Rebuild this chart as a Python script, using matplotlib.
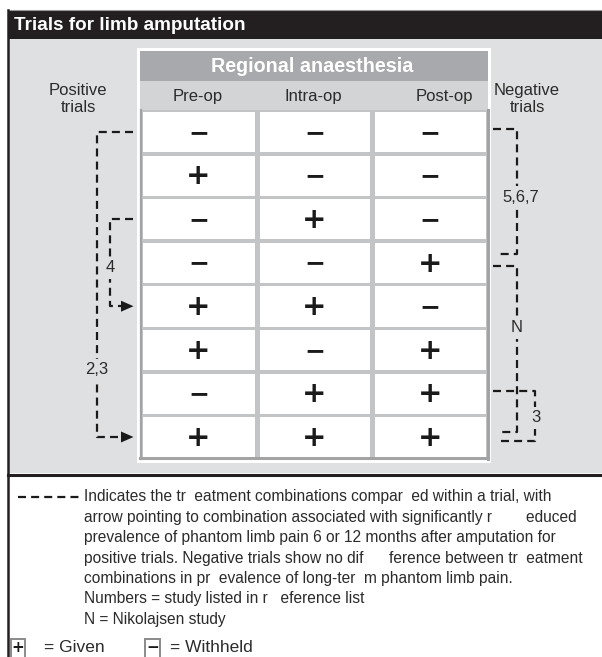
import matplotlib
matplotlib.use("Agg")
import matplotlib.pyplot as plt
from matplotlib.patches import Rectangle, Polygon

# ---------------- data ----------------
title = "Trials for limb amputation"
group_header = "Regional anaesthesia"
columns = ["Pre-op", "Intra-op", "Post-op"]
# 1 = given (+), 0 = withheld (−), one entry per table row
pre_op = [0, 1, 0, 0, 1, 1, 0, 1]
intra_op = [0, 0, 1, 0, 1, 0, 1, 1]
post_op = [0, 0, 0, 1, 0, 1, 1, 1]
side_labels = ["Positive\ntrials", "Negative\ntrials"]

# (label, from row, to row); on positive trials the arrow points to 'to'
positive_trials = [("2,3", 0, 7), ("4", 2, 4)]
negative_trials = [("5,6,7", 0, 3), ("N", 3, 7), ("3", 6, 7)]

legend_lines = [
    "Indicates the tr  eatment combinations compar  ed within a trial, with",
    "arrow pointing to combination associated with significantly r        educed",
    "prevalence of phantom limb pain 6 or 12 months after amputation for",
    "positive trials. Negative trials show no dif      ference between tr  eatment",
    "combinations in pr  evalence of long-ter  m phantom limb pain.",
    "Numbers = study listed in r   eference list",
    "N = Nikolajsen study",
]
given_label = "= Given"
withheld_label = "= Withheld"

# ---------------- layout / style ----------------
W, H = 602, 657
FONT = ["Liberation Sans", "DejaVu Sans"]
TXT = "#2b2b2b"
PANEL = "#dfe0e2"
DARK = "#231f20"
ROW_TOP, ROW_H = 110.0, 43.6
COL_X = [140, 257, 372, 488]
# per-trial bracket geometry: x of vertical, y offsets at the two ends, label position
bracket_layout = {
    "2,3": dict(x=97, dy0=0, dy1=0, lx=97, ly=370),
    "4": dict(x=110, dy0=0, dy1=0, lx=110, ly=268),
    "5,6,7": dict(x=517, dy0=-3, dy1=-9, lx=521, ly=197),
    "N": dict(x=517, dy0=3, dy1=-5, lx=517, ly=328),
    "3": dict(x=535, dy0=-2, dy1=4, lx=536, ly=418),
}
DASH = dict(color="#1a1a1a", lw=1.6, linestyle=(0, (3.6, 2.3)),
            dash_capstyle="butt", solid_capstyle="butt")

plt.rcParams["font.family"] = FONT
fig = plt.figure(figsize=(W / 100, H / 100), dpi=100)
ax = fig.add_axes([0, 0, 1, 1])
ax.set_xlim(0, W)
ax.set_ylim(H, 0)
ax.axis("off")


def row_y(i):
    return ROW_TOP + ROW_H * (i + 0.5)


# frame
ax.add_patch(Rectangle((8, 39), W - 8, 434, fc=PANEL, ec="none", zorder=0))
ax.add_patch(Rectangle((8, 10), W - 8, 29, fc=DARK, ec="none", zorder=1))
ax.plot([8, W], [9.5, 9.5], color="#9a9a9a", lw=0.8, zorder=1)
ax.plot([8, 8], [10, H], color=DARK, lw=1.8, zorder=3)
ax.plot([8, W], [474.5, 474.5], color=DARK, lw=2.2, zorder=3)
ax.text(14, 25, title, color="white", fontsize=13.6, fontweight="bold",
        va="center", ha="left", zorder=4)

# table
ax.add_patch(Rectangle((137, 48), 354, 415, fc="white", ec="none", zorder=1))
ax.add_patch(Rectangle((140, 51), 348, 30, fc="#a7a9ac", ec="none", zorder=2))
ax.add_patch(Rectangle((140, 81), 348, 29, fc="#d3d4d6", ec="none", zorder=2))
ax.text(312, 67, group_header, color="white", fontsize=14.2, fontweight="bold",
        ha="center", va="center", zorder=3)
col_label_x = [198, 313, 444]
for cx, name in zip(col_label_x, columns):
    ax.text(cx, 97, name, color=TXT, fontsize=12, ha="center", va="center", zorder=3)

nrows = len(pre_op)
body_bottom = ROW_TOP + ROW_H * nrows
ax.add_patch(Rectangle((COL_X[0], ROW_TOP), COL_X[-1] - COL_X[0], body_bottom - ROW_TOP,
                       fc="#c3c4c6", ec="none", zorder=2))
ax.plot([COL_X[0] + 1, COL_X[0] + 1], [ROW_TOP, body_bottom], color="#a2a3a5", lw=1.6, zorder=3)
ax.plot([COL_X[-1] - 0.5, COL_X[-1] - 0.5], [ROW_TOP, body_bottom], color="#a2a3a5", lw=2.2, zorder=3)
ax.plot([COL_X[0], COL_X[-1]], [body_bottom - 1, body_bottom - 1], color="#a2a3a5", lw=2.2, zorder=3)

values = list(zip(pre_op, intra_op, post_op))
for r, row in enumerate(values):
    y0 = ROW_TOP + ROW_H * r
    for c, v in enumerate(row):
        x0, x1 = COL_X[c], COL_X[c + 1]
        ax.add_patch(Rectangle((x0 + 2.5, y0 + 2), x1 - x0 - 4.5, ROW_H - 3.5,
                               fc="white", ec="none", zorder=3))
        cx = (x0 + x1) / 2
        if v:
            ax.text(cx, row_y(r) + 1, "+", fontsize=21, fontweight="bold", color="#1a1a1a",
                    family="DejaVu Sans", ha="center", va="center", zorder=4)
        else:
            ax.text(cx, row_y(r) + 1, "\u2212", fontsize=18, fontweight="bold", color="#1a1a1a",
                    family="DejaVu Sans", ha="center", va="center", zorder=4)

# side labels
ax.text(78, 99, side_labels[0], color=TXT, fontsize=12, ha="center", va="center",
        linespacing=1.15, zorder=3)
ax.text(527, 99, side_labels[1], color=TXT, fontsize=12, ha="center", va="center",
        linespacing=1.15, zorder=3)

LBL_BOX = dict(fc=PANEL, ec="none", pad=2.5)

# positive trials (left, with arrow)
for label, r0, r1 in positive_trials:
    L = bracket_layout[label]
    xb = L["x"]
    y0, y1 = row_y(r0) + L["dy0"], row_y(r1) + L["dy1"]
    ax.plot([133, xb, xb, 122], [y0, y0, y1, y1], zorder=3, **DASH)
    ax.add_patch(Polygon([(121, y1 - 5.5), (133.5, y1), (121, y1 + 5.5)],
                         closed=True, fc="#1a1a1a", ec="none", zorder=4))
    ax.text(L["lx"], L["ly"], label, color=TXT, fontsize=12,
            ha="center", va="center", bbox=LBL_BOX, zorder=4)

# negative trials (right)
for label, r0, r1 in negative_trials:
    L = bracket_layout[label]
    xb = L["x"]
    y0, y1 = row_y(r0) + L["dy0"], row_y(r1) + L["dy1"]
    ax.plot([493, xb, xb, 499], [y0, y0, y1, y1], zorder=3, **DASH)
    ax.text(L["lx"], L["ly"], label, color=TXT, fontsize=12,
            ha="center", va="center", bbox=LBL_BOX, zorder=4)

# legend
ax.plot([18, 79], [497, 497], zorder=3, **DASH)
for i, line in enumerate(legend_lines):
    ax.text(84, 497 + 20.4 * i, line, color=TXT, fontsize=11.2, ha="left", va="center", zorder=3)

ax.add_patch(Rectangle((11, 639), 14, 19, fc="white", ec="#8a8a8a", lw=1.4, zorder=3))
ax.text(18, 647, "+", fontsize=11, fontweight="bold", family="DejaVu Sans", color="#1a1a1a",
        ha="center", va="center", zorder=4)
ax.text(44, 648, given_label, color=TXT, fontsize=12.5, ha="left", va="center", zorder=3)
ax.add_patch(Rectangle((145, 639), 15, 19, fc="white", ec="#8a8a8a", lw=1.4, zorder=3))
ax.text(152.5, 647, "\u2212", fontsize=11, fontweight="bold", family="DejaVu Sans", color="#1a1a1a",
        ha="center", va="center", zorder=4)
ax.text(170, 648, withheld_label, color=TXT, fontsize=12.5, ha="left", va="center", zorder=3)

fig.savefig("out.png", dpi=100)
